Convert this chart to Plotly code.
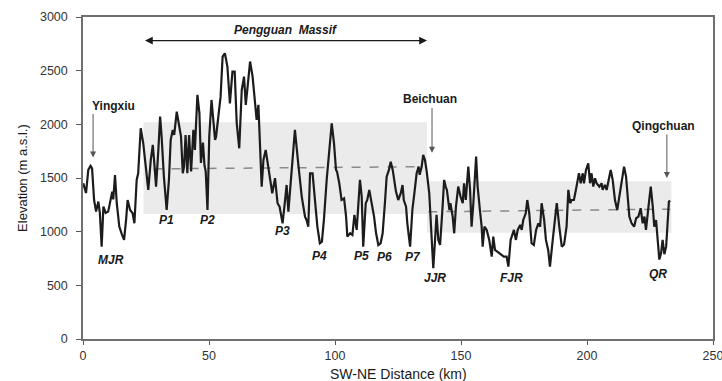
import plotly.graph_objects as go

# Elevation profile along the SW-NE section
distance_km = [
    0.1, 1.2, 2.1, 3.0, 3.6, 4.4, 5.2, 6.1, 6.7, 7.4, 8.1, 9.0, 10.0, 11.0, 11.6, 12.0,
    12.7, 13.4, 14.4, 15.3, 16.3, 17.1, 17.7, 18.7, 19.7, 20.4, 21.3, 21.9, 22.9, 23.9,
    25.0, 25.9, 26.9, 27.7, 28.2, 29.0, 29.9, 30.6, 31.2, 32.1, 33.2, 34.1, 34.8, 35.6,
    36.2, 37.2, 38.1, 38.9, 39.6, 40.1, 40.7, 41.4, 42.1, 42.9, 43.8, 44.4, 45.4, 46.2,
    46.8, 47.6, 48.2, 48.7, 49.4, 50.1, 51.0, 51.7, 52.4, 52.8, 53.7, 54.6, 55.4, 56.3,
    57.3, 58.3, 59.3, 60.2, 61.0, 62.0, 63.0, 63.9, 64.6, 65.2, 66.3, 67.3, 68.3, 68.9,
    69.6, 70.2, 70.9, 71.6, 72.5, 73.5, 74.2, 75.1, 76.2, 77.2, 78.0, 79.2, 80.2, 80.8,
    81.5, 82.4, 84.1, 85.4, 86.8, 88.1, 88.7, 89.4, 90.1, 91.1, 92.1, 93.0, 94.0, 94.8,
    95.6, 96.7, 98.7, 99.6, 100.4, 100.8, 101.7, 102.6, 103.6, 104.4, 104.9, 106.0, 106.9,
    107.7, 108.6, 109.9, 110.6, 111.2, 112.2, 112.8, 113.6, 114.6, 115.5, 116.3, 117.2,
    118.1, 118.9, 119.8, 120.5, 121.4, 122.1, 122.9, 123.4, 124.2, 125.1, 126.1, 126.8,
    127.3, 128.2, 128.7, 129.8, 130.7, 131.5, 132.4, 133.2, 133.6, 134.4, 135.0, 135.7,
    136.4, 137.4, 138.4, 139.0, 139.7, 140.3, 141.0, 141.7, 142.7, 143.3, 143.9, 144.4,
    145.4, 145.8, 146.7, 147.3, 148.0, 148.9, 149.8, 150.7, 151.2, 151.9, 152.9, 153.6,
    154.2, 154.9, 156.0, 156.6, 157.5, 158.2, 158.6, 159.3, 160.2, 161.2, 162.2, 162.8,
    163.5, 164.4, 165.2, 166.1, 167.0, 168.1, 168.8, 169.7, 170.5, 171.0, 171.8, 172.5,
    173.5, 174.1, 174.7, 175.7, 176.3, 177.1, 178.0, 178.9, 179.8, 180.7, 181.4, 182.0,
    183.0, 183.7, 184.6, 185.3, 186.4, 187.3, 188.0, 189.0, 190.0, 190.9, 191.9, 192.6,
    193.3, 193.9, 194.8, 195.6, 196.2, 196.8, 197.5, 198.3, 198.8, 199.6, 200.5, 201.2,
    201.8, 202.5, 203.2, 203.8, 204.9, 205.8, 206.2, 207.1, 207.8, 208.5, 209.4, 210.2,
    211.1, 212.0, 212.8, 213.7, 214.7, 215.5, 216.1, 216.8, 217.7, 218.7, 219.5, 220.4,
    221.3, 222.1, 222.8, 223.4, 224.4, 225.3, 226.1, 226.7, 227.4, 228.0, 228.7, 229.4,
    230.0, 230.7, 231.4, 231.9, 232.5, 233.0,
]
elevation_m = [
    1451, 1360, 1575, 1612, 1590, 1295, 1187, 1280, 1174, 860, 1233, 1174, 1187, 1327, 1373, 1300,
    1528, 1265, 1047, 985, 923, 1109, 1295, 1202, 1171, 1078, 1482, 1544, 1963, 1824,
    1575, 1389, 1668, 1808, 1668, 1420, 1761, 2072, 1885, 1513, 1202, 1482, 1855, 1948,
    1901, 2118, 1994, 1885, 1544, 1606, 1901, 1544, 1901, 1560, 1948, 1761, 2274, 2103,
    1640, 1830, 1620, 1560, 1202, 1885, 2227, 2010, 1855, 1885, 2072, 2258, 2631, 2662,
    2538, 2196, 2491, 2491, 2010, 1777, 2320, 2444, 2181, 2351, 2585, 2444, 2165, 2041,
    2181, 1885, 1420, 1668, 1761, 1606, 1482, 1358, 1498, 1265, 1233, 1078, 1295, 1435,
    1187, 1482, 1948, 1637, 1327, 1140, 1109, 1047, 1544, 1544, 1295, 1047, 892, 907,
    1109, 1482, 2010, 1824, 1575, 1560, 1451, 1295, 1310, 1140, 954, 985, 970,
    1156, 1016, 1482, 1327, 860, 1265, 1295, 1389, 1265, 1140, 985, 876,
    892, 985, 1265, 1513, 1575, 1652, 1575, 1482, 1373, 1295, 1358, 1435,
    1295, 1233, 1078, 860, 1202, 1358, 1544, 1606, 1530, 1606, 1715, 1668,
    1560, 1358, 985, 659, 923, 1156, 923, 876, 1233, 1482, 1420, 1389,
    1202, 1265, 1140, 985, 1233, 1420, 1327, 1265, 1451, 1295, 1606, 1389,
    1047, 1265, 1699, 1420, 1202, 1047, 860, 1047, 1016, 923, 767, 954,
    830, 814, 799, 783, 767, 767, 674, 923, 970, 1016, 923, 1016,
    1063, 1016, 1109, 1171, 1295, 1171, 892, 876, 1016, 1078, 1047, 1265,
    1109, 923, 830, 674, 923, 1109, 1265, 1047, 860, 880, 1050, 1389,
    1265, 1295, 1295, 1389, 1451, 1544, 1451, 1544, 1451, 1575, 1637, 1451,
    1544, 1420, 1498, 1451, 1420, 1451, 1389, 1436, 1389, 1482, 1575, 1482,
    1295, 1202, 1327, 1451, 1606, 1513, 1295, 1140, 1078, 1047, 1125, 1140,
    1218, 1078, 1140, 1016, 1233, 1420, 1233, 1047, 1109, 923, 740, 800,
    923, 790, 860, 1047, 1280, 1290,
]

# Elevation bands (km start, km end, m low, m high) and mean elevation lines
band_x0 = [24.0, 136.5]
band_x1 = [136.5, 233.5]
band_y0 = [1165, 990]
band_y1 = [2020, 1470]
mean1_x = [28.0, 133.5]
mean1_y = [1585, 1605]
mean2_x = [137.0, 233.0]
mean2_y = [1185, 1210]

# Point labels under the profile
label_text = ["MJR", "P1", "P2", "P3", "P4", "P5", "P6", "P7", "JJR", "FJR", "QR"]
label_x = [11.0, 33.3, 49.6, 79.0, 94.0, 110.7, 119.8, 131.0, 139.7, 170.0, 228.0]
label_y = [736, 1109, 1109, 1007, 773, 773, 765, 765, 568, 568, 606]

# Towns marked with arrows: label position, arrow tail and head
town_text = ["Yingxiu", "Beichuan", "Qingchuan"]
town_label_x = [2.8, 137.7, 230.2]
town_label_y = [2175, 2240, 1985]
town_arrow_x = [4.0, 138.5, 231.7]
town_arrow_tail = [2110, 2165, 1920]
town_arrow_head = [1690, 1735, 1500]

massif_text = "Pengguan  Massif"
massif_x = [24.0, 136.5]
massif_y = 2780

x_ticks = [0, 50, 100, 150, 200, 250]
y_ticks = [0, 500, 1000, 1500, 2000, 2500, 3000]

FONT = "Arial, 'Liberation Sans', sans-serif"

fig = go.Figure()

shapes = []
for x0, x1, y0, y1 in zip(band_x0, band_x1, band_y0, band_y1):
    shapes.append(dict(type="rect", xref="x", yref="y", x0=x0, x1=x1, y0=y0, y1=y1,
                       fillcolor="#ebebeb", line=dict(width=0), layer="below"))

for mx, my in ((mean1_x, mean1_y), (mean2_x, mean2_y)):
    fig.add_trace(go.Scatter(x=mx, y=my, mode="lines",
                             line=dict(color="#8a8a8a", width=1.5, dash="dash"),
                             hoverinfo="skip", showlegend=False))

fig.add_trace(go.Scatter(x=distance_km, y=elevation_m, mode="lines",
                         line=dict(color="#1c1c1c", width=2.2),
                         showlegend=False))

annotations = []
for t, x, y in zip(label_text, label_x, label_y):
    annotations.append(dict(x=x, y=y, xref="x", yref="y", text=f"<b><i>{t}</i></b>",
                            showarrow=False, font=dict(family=FONT, size=12, color="#1a1a1a")))

for t, lx, ly, ax, tail, head in zip(town_text, town_label_x, town_label_y,
                                     town_arrow_x, town_arrow_tail, town_arrow_head):
    xanchor = "left" if t == "Yingxiu" else "center"
    annotations.append(dict(x=lx, y=ly, xref="x", yref="y", text=f"<b>{t}</b>",
                            xanchor=xanchor, showarrow=False,
                            font=dict(family=FONT, size=12, color="#1a1a1a")))
    annotations.append(dict(x=ax, y=head, ax=ax, ay=tail, xref="x", yref="y",
                            axref="x", ayref="y", text="", showarrow=True,
                            arrowhead=2, arrowsize=1.2, arrowwidth=1, arrowcolor="#555555"))

annotations.append(dict(x=massif_x[1], y=massif_y, ax=massif_x[0], ay=massif_y,
                        xref="x", yref="y", axref="x", ayref="y", text="",
                        showarrow=True, arrowhead=2, startarrowhead=2, arrowside="end+start",
                        arrowsize=1.2, arrowwidth=1.3, arrowcolor="#1a1a1a"))
annotations.append(dict(x=(massif_x[0] + massif_x[1]) / 2, y=2875, xref="x", yref="y",
                        text=f"<b><i>{massif_text}</i></b>", showarrow=False,
                        font=dict(family=FONT, size=12, color="#1a1a1a")))

# axis titles
annotations.append(dict(x=-0.097, y=0.5, xref="paper", yref="paper",
                        xanchor="center", yanchor="middle",
                        text="Elevation (m a.s.l.)", textangle=-90, showarrow=False,
                        font=dict(family=FONT, size=13, color="#1a1a1a")))
annotations.append(dict(x=0.5, y=-0.109, xref="paper", yref="paper",
                        xanchor="center", yanchor="middle",
                        text="SW-NE Distance (km)", showarrow=False,
                        font=dict(family=FONT, size=14, color="#1a1a1a")))

fig.update_layout(
    width=722, height=381,
    margin=dict(l=83, r=9, t=17, b=42, autoexpand=False),
    paper_bgcolor="white", plot_bgcolor="white",
    shapes=shapes, annotations=annotations,
    font=dict(family=FONT, size=12, color="#333333"),
    showlegend=False,
)
fig.update_xaxes(range=[0, 250], tickvals=x_ticks, showgrid=False, zeroline=False,
                 showline=True, mirror=True, linecolor="#707070", linewidth=1.5,
                 ticks="outside", ticklen=4, tickcolor="#555555",
                 ticklabeloverflow="allow", automargin=False,
                 tickfont=dict(family=FONT, size=12.5, color="#333333"))
fig.update_yaxes(range=[0, 3000], tickvals=y_ticks, showgrid=False, zeroline=False,
                 showline=True, mirror=True, linecolor="#707070", linewidth=1.5,
                 ticks="outside", ticklen=5, tickcolor="#555555", ticklabelstandoff=6,
                 automargin=False,
                 tickfont=dict(family=FONT, size=12.5, color="#333333"))

fig.write_html("out.html")
